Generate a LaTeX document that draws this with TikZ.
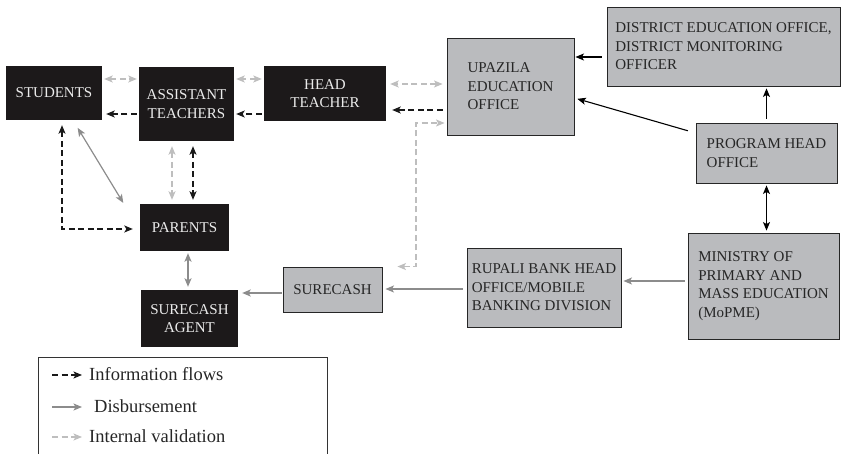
\documentclass[tikz,border=0pt]{standalone}
\usepackage{fontspec}
\setmainfont{Liberation Serif}
\usetikzlibrary{arrows.meta,positioning,calc}

\definecolor{boxblack}{RGB}{28,25,26}
\definecolor{boxgray}{RGB}{186,187,190}
\definecolor{flowgray}{RGB}{140,140,140}
\definecolor{validgray}{RGB}{190,190,190}

\begin{document}
\begin{tikzpicture}[
  x=1pt, y=-1pt,
  >={Stealth[length=8.5pt,width=7pt,inset=2pt]},
  every node/.style={font=\fontsize{15}{18.5}\selectfont, inner sep=2pt},
  dark/.style={rectangle, fill=boxblack, text=white!92!black, align=center},
  office/.style={rectangle, draw=black!85, line width=0.9pt, fill=boxgray, text=black!85, align=left},
  info/.style={black!90, line width=1.1pt, dash pattern=on 6pt off 3.5pt},
  money/.style={flowgray, line width=1.2pt},
  valid/.style={validgray, line width=1.1pt, dash pattern=on 6pt off 3.5pt},
  order/.style={black, line width=1.1pt},
  legend/.style={font=\fontsize{18.5}{20}\selectfont, anchor=west, text=black!85}
]
  \useasboundingbox (0,0) rectangle (841,454);

  % School side
  \node[dark, minimum width=96, minimum height=54] (stu) at (54,93) {STUDENTS};
  \node[dark, minimum width=95, minimum height=74] (ast) at (186.5,104) {ASSISTANT\\TEACHERS};
  \node[dark, minimum width=122, minimum height=55] (hdt) at (325,93.5) {HEAD\\TEACHER};
  \node[dark, minimum width=89, minimum height=47] (par) at (184.5,227.5) {PARENTS};
  \node[dark, minimum width=97, minimum height=57] (agt) at (189.5,318.5) {SURECASH\\AGENT};

  % Offices
  \node[office, minimum width=127, minimum height=97] (upz) at (510.5,86.5) {UPAZILA\\EDUCATION\\OFFICE};
  \node[office, minimum width=233, minimum height=79] (dst) at (723.5,46.5) {DISTRICT EDUCATION OFFICE,\\DISTRICT MONITORING\\OFFICER};
  \node[office, minimum width=141, minimum height=60] (prg) at (766.5,153) {PROGRAM HEAD\\OFFICE};
  \node[office, minimum width=151, minimum height=106] (mop) at (763.5,286) {MINISTRY OF\\PRIMARY AND\\MASS EDUCATION\\(MoPME)};
  \node[office, minimum width=154, minimum height=79] (rup) at (544,287.5) {RUPALI BANK HEAD\\OFFICE/MOBILE\\BANKING DIVISION};
  \node[office, align=center, minimum width=99, minimum height=45] (sc) at (332.5,289.5) {SURECASH};

  % Internal validation
  \draw[valid, <->, shorten <=2pt, shorten >=2pt] ([yshift=14]stu.east) -- ([yshift=14]stu.east -| ast.west);
  \draw[valid, <->, shorten <=2pt, shorten >=2pt] ([yshift=14.5]hdt.west) -- ([yshift=14.5]hdt.west -| ast.east);
  \draw[valid, <->, shorten <=4pt, shorten >=4pt] ([yshift=2.5]upz.west) -- ([yshift=2.5]upz.west -| hdt.east);
  \draw[valid, <->, shorten <=5pt, shorten >=4pt] ([xshift=-14.5]ast.south) -- ([xshift=-14.5]ast.south |- par.north);
  \coordinate (scv) at ([xshift=15]sc.north east);
  \coordinate (vk) at (416,123);
  \draw[valid, <->, shorten >=2pt] (scv) -- (vk |- scv) -- (vk) -- (vk -| upz.west);

  % Information flows
  \draw[info, ->, shorten <=2pt, shorten >=4pt] ([yshift=-21]stu.east -| ast.west) -- ([yshift=-21]stu.east);
  \draw[info, ->, shorten <=2pt, shorten >=2pt] ([yshift=-20.5]hdt.west) -- ([yshift=-20.5]hdt.west -| ast.east);
  \draw[info, ->, shorten <=4pt, shorten >=6pt] ([yshift=-23.5]upz.west) -- ([yshift=-23.5]upz.west -| hdt.east);
  \draw[info, <->, shorten <=5pt, shorten >=4pt] ([xshift=6.5]ast.south) -- ([xshift=6.5]ast.south |- par.north);
  \draw[info, <->, shorten <=5pt, shorten >=7pt] ([xshift=8]stu.south) |- ([yshift=-1.5]par.west);

  % Orders between offices
  \draw[order, ->, shorten <=5pt, shorten >=1pt] ([yshift=-10.5]dst.west) -- ([yshift=-10.5]dst.west -| upz.east);
  \draw[order, ->, shorten <=8pt, shorten >=3pt] ([yshift=20]prg.west) -- ([yshift=-11.5]upz.east);
  \draw[order, ->, shorten <=4pt, shorten >=2pt] (prg.north) -- (prg.north |- dst.south);
  \draw[order, <->, shorten <=2pt, shorten >=2pt] (prg.south) -- (prg.south |- mop.north);

  % Disbursement
  \draw[money, ->, shorten <=3pt, shorten >=2pt] ([yshift=5]mop.west) -- ([yshift=5]mop.west -| rup.east);
  \draw[money, ->, shorten <=4pt, shorten >=3pt] ([yshift=-1.5]rup.west) -- ([yshift=-1.5]rup.west -| sc.east);
  \draw[money, ->, shorten <=1pt, shorten >=4pt] ([yshift=-3.5]sc.west) -- ([yshift=-3.5]sc.west -| agt.east);
  \draw[money, <->, shorten <=2pt, shorten >=3pt] ([xshift=3.5]par.south) -- ([xshift=3.5]par.south |- agt.north);
  \draw[money, <->, shorten <=9pt, shorten >=1pt] ([xshift=19]stu.south) -- ([xshift=-16]par.north west);

  % Legend
  \draw[black!80, line width=0.8pt] (38,470) -- (38,357) -- (327,357) -- (327,470);
  \coordinate (ia) at (52,375);  \coordinate (ib) at (82,375);
  \coordinate (da) at (52,407);  \coordinate (db) at (82,407);
  \coordinate (va) at (52,437);  \coordinate (vb) at (82,437);
  \draw[info, ->] (ia) -- (ib);
  \draw[money, ->] (da) -- (db);
  \draw[valid, ->] (va) -- (vb);
  \node[legend] (linfo) at (87,374) {Information flows};
  \node[legend] (lmoney) at (92,406) {Disbursement};
  \node[legend] (lvalid) at (87,436) {Internal validation};
\end{tikzpicture}
\end{document}
